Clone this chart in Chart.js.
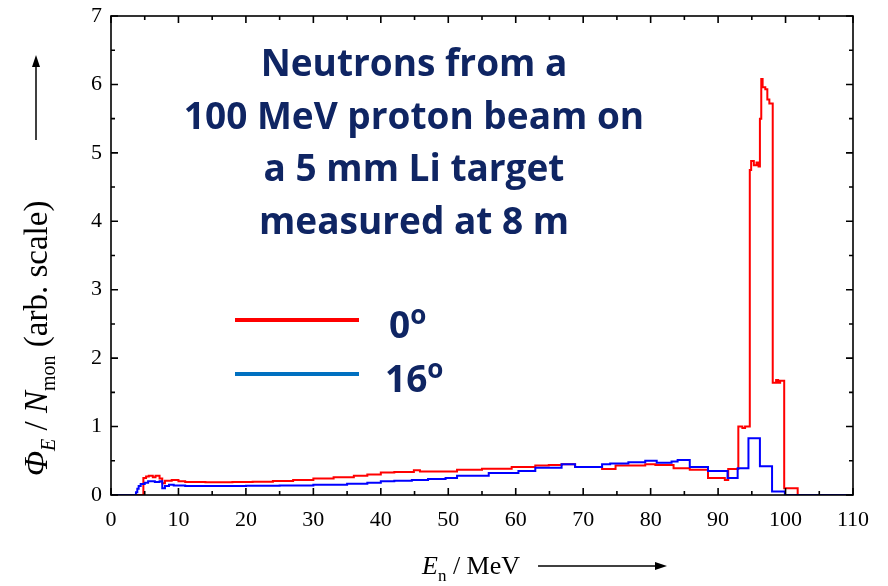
<!DOCTYPE html>
<html>
<head>
<meta charset="utf-8">
<script src="https://cdn.jsdelivr.net/npm/chart.js@4"></script>
<style>
  html, body { margin: 0; padding: 0; background: #fff; }
  canvas { display: block; }
</style>
</head>
<body>
<canvas id="spectrum" width="888" height="586"></canvas>
<script>
// Neutron spectra, bin start energies (MeV) and fluence per monitor count
const redEnergy = [0, 4.8, 5.2, 5.6, 6.2, 6.6, 7.2, 7.6, 8.0, 9.0, 10.0, 11.0, 14, 18, 21, 24, 27, 30, 33, 36, 38, 40, 42, 44.9, 45.8, 51.3, 55, 59.4, 62.9, 64.9, 66.8, 68.8, 72.8, 74.8, 79.2, 80.7, 83.4, 85.8, 88.5, 91.0, 91.5, 93.0, 93.6, 94.0, 94.7, 94.9, 95.3, 95.7, 96.0, 96.2, 96.4, 96.6, 97.0, 97.3, 97.6, 98.1, 98.6, 98.9, 99.2, 99.8, 101.8, 110];
const redFlux   = [0, 0.25, 0.27, 0.28, 0.26, 0.28, 0.24, 0.17, 0.21, 0.22, 0.20, 0.19, 0.185, 0.19, 0.195, 0.205, 0.22, 0.24, 0.26, 0.28, 0.30, 0.33, 0.335, 0.36, 0.345, 0.37, 0.385, 0.41, 0.43, 0.44, 0.45, 0.41, 0.38, 0.43, 0.45, 0.44, 0.39, 0.37, 0.25, 0.22, 0.38, 1.0, 0.98, 1.0, 4.75, 4.88, 4.82, 4.86, 4.80, 5.5, 6.08, 5.96, 5.93, 5.78, 5.72, 1.64, 1.68, 1.64, 1.67, 0.1, 0, 0];

const blueEnergy = [0, 3.7, 3.9, 4.1, 4.4, 5.0, 5.5, 6.5, 7.2, 7.6, 8.0, 8.6, 9.3, 11, 20, 25, 30, 35, 38, 40, 42, 44.6, 47, 49.6, 51.3, 56.0, 60.4, 62.9, 66.8, 68.8, 72.8, 74, 76.7, 79.2, 80.9, 83.1, 84, 85.8, 88.5, 91.4, 92.9, 94.5, 96.2, 98.0, 99.9, 110];
const blueFlux   = [0, 0.04, 0.09, 0.13, 0.16, 0.18, 0.20, 0.19, 0.20, 0.10, 0.13, 0.15, 0.14, 0.13, 0.135, 0.14, 0.15, 0.165, 0.18, 0.20, 0.21, 0.22, 0.235, 0.25, 0.28, 0.32, 0.35, 0.40, 0.45, 0.41, 0.45, 0.46, 0.48, 0.50, 0.47, 0.49, 0.51, 0.41, 0.35, 0.25, 0.39, 0.83, 0.42, 0.05, 0, 0];

const xTicks = [0, 10, 20, 30, 40, 50, 60, 70, 80, 90, 100, 110];
const yTicks = [0, 1, 2, 3, 4, 5, 6, 7];

const titleLines = ['Neutrons from a', '100 MeV proton beam on', 'a 5 mm Li target', 'measured at 8 m'];
const legendLabels = ['0', '16'];

const navy = '#0f2563';
const serif = '"Liberation Serif", "Times New Roman", serif';
const sans = '"Open Sans", Calibri, sans-serif';

function toPoints(xs, ys) {
  return xs.map((x, i) => ({ x: x, y: ys[i] }));
}

// frame with inward ticks on all four sides
const framePlugin = {
  id: 'frame',
  afterDraw(chart) {
    const ctx = chart.ctx;
    const a = chart.chartArea;
    const sx = chart.scales.x, sy = chart.scales.y;
    ctx.save();
    ctx.strokeStyle = '#000';
    ctx.lineWidth = 1.6;
    ctx.strokeRect(a.left, a.top, a.right - a.left, a.bottom - a.top);
    ctx.beginPath();
    for (let v = 0; v <= 110; v += 5) {
      const len = v % 10 === 0 ? 7 : 4;
      const px = sx.getPixelForValue(v);
      ctx.moveTo(px, a.bottom); ctx.lineTo(px, a.bottom - len);
      ctx.moveTo(px, a.top); ctx.lineTo(px, a.top + len);
    }
    for (let v = 0; v <= 7; v += 0.5) {
      const len = v % 1 === 0 ? 7 : 4;
      const py = sy.getPixelForValue(v);
      ctx.moveTo(a.left, py); ctx.lineTo(a.left + len, py);
      ctx.moveTo(a.right, py); ctx.lineTo(a.right - len, py);
    }
    ctx.stroke();
    ctx.restore();
  }
};

// draws a run of text pieces (with sub/superscripts) starting at x, baseline y
function drawPieces(ctx, pieces, x, y) {
  pieces.forEach(p => {
    ctx.font = p.font;
    ctx.fillText(p.t, x, y + (p.dy || 0));
    x += ctx.measureText(p.t).width;
  });
  return x;
}
function arrow(ctx, x1, y1, x2, y2) {
  const ang = Math.atan2(y2 - y1, x2 - x1);
  ctx.beginPath();
  ctx.moveTo(x1, y1);
  ctx.lineTo(x2 - 10 * Math.cos(ang), y2 - 10 * Math.sin(ang));
  ctx.stroke();
  ctx.beginPath();
  ctx.moveTo(x2, y2);
  ctx.lineTo(x2 - 12 * Math.cos(ang) - 4 * Math.sin(ang), y2 - 12 * Math.sin(ang) + 4 * Math.cos(ang));
  ctx.lineTo(x2 - 12 * Math.cos(ang) + 4 * Math.sin(ang), y2 - 12 * Math.sin(ang) - 4 * Math.cos(ang));
  ctx.closePath();
  ctx.fill();
}

const labelsPlugin = {
  id: 'labels',
  afterDraw(chart) {
    const ctx = chart.ctx;
    ctx.save();
    ctx.fillStyle = '#000';
    ctx.strokeStyle = '#000';
    ctx.lineWidth = 1.5;
    ctx.textBaseline = 'alphabetic';
    ctx.textAlign = 'left';

    // x axis title: E_n / MeV  ->
    const xt = [
      { t: 'E', font: 'italic 26px ' + serif },
      { t: 'n', font: '17px ' + serif, dy: 7 },
      { t: ' / MeV', font: '26px ' + serif }
    ];
    const xEnd = drawPieces(ctx, xt, 422, 574);
    arrow(ctx, xEnd + 18, 566, 667, 566);

    // y axis title, rotated
    const yt = [
      { t: 'Φ', font: 'italic 33px ' + serif },
      { t: 'E', font: 'italic 20px ' + serif, dy: 8 },
      { t: ' / ', font: '33px ' + serif },
      { t: 'N', font: 'italic 33px ' + serif },
      { t: 'mon', font: '20px ' + serif, dy: 8 },
      { t: ' (arb. scale)', font: '33px ' + serif }
    ];
    ctx.save();
    ctx.translate(47, 476);
    ctx.rotate(-Math.PI / 2);
    drawPieces(ctx, yt, 0, 0);
    ctx.restore();
    arrow(ctx, 36, 140, 36, 55);

    // title block
    ctx.fillStyle = navy;
    ctx.textAlign = 'center';
    ctx.font = 'bold 37px ' + sans;
    titleLines.forEach((line, i) => ctx.fillText(line, 414, 76 + i * 52.5));

    // legend
    ctx.textAlign = 'left';
    const legend = [
      { color: '#ff0000', y: 320, label: legendLabels[0], tx: 389 },
      { color: '#0070c0', y: 374, label: legendLabels[1], tx: 385 }
    ];
    legend.forEach(item => {
      ctx.strokeStyle = item.color;
      ctx.lineWidth = 4;
      ctx.beginPath();
      ctx.moveTo(235, item.y);
      ctx.lineTo(359, item.y);
      ctx.stroke();
      ctx.fillStyle = navy;
      drawPieces(ctx, [
        { t: item.label, font: 'bold 37px ' + sans },
        { t: 'o', font: 'bold 26px ' + sans, dy: -14 }
      ], item.tx, item.y + 18);
    });
    ctx.restore();
  }
};

const tickFont = { family: serif, size: 22 };

// keep the plot box fixed regardless of tick label overflow
function fixBox(size) {
  return s => {
    if (s.isHorizontal()) s.height = size; else s.width = size;
    s.paddingTop = 0; s.paddingBottom = 0;
    s.paddingLeft = 0; s.paddingRight = 0;
  };
}

new Chart(document.getElementById('spectrum'), {
  type: 'line',
  data: {
    datasets: [
      {
        label: '16°',
        data: toPoints(blueEnergy, blueFlux),
        borderColor: '#0000ff',
        borderWidth: 2,
        stepped: 'before',
        pointRadius: 0,
        fill: false
      },
      {
        label: '0°',
        data: toPoints(redEnergy, redFlux),
        borderColor: '#ff0000',
        borderWidth: 2,
        stepped: 'before',
        pointRadius: 0,
        fill: false
      }
    ]
  },
  options: {
    responsive: false,
    animation: false,
    layout: { padding: { top: 16, right: 35, left: 0, bottom: 0 } },
    plugins: { legend: { display: false }, tooltip: { enabled: false } },
    scales: {
      x: {
        type: 'linear',
        min: 0,
        max: 110,
        afterBuildTicks: s => { s.ticks = xTicks.map(v => ({ value: v })); },
        ticks: { font: tickFont, color: '#000', padding: 12, maxRotation: 0, autoSkip: false },
        grid: { display: false, drawTicks: false },
        border: { display: false },
        afterFit: fixBox(91)
      },
      y: {
        min: 0,
        max: 7,
        afterBuildTicks: s => { s.ticks = yTicks.map(v => ({ value: v })); },
        ticks: { font: tickFont, color: '#000', padding: 9 },
        grid: { display: false, drawTicks: false },
        border: { display: false },
        afterFit: fixBox(111)
      }
    }
  },
  plugins: [framePlugin, labelsPlugin]
});
</script>
</body>
</html>
